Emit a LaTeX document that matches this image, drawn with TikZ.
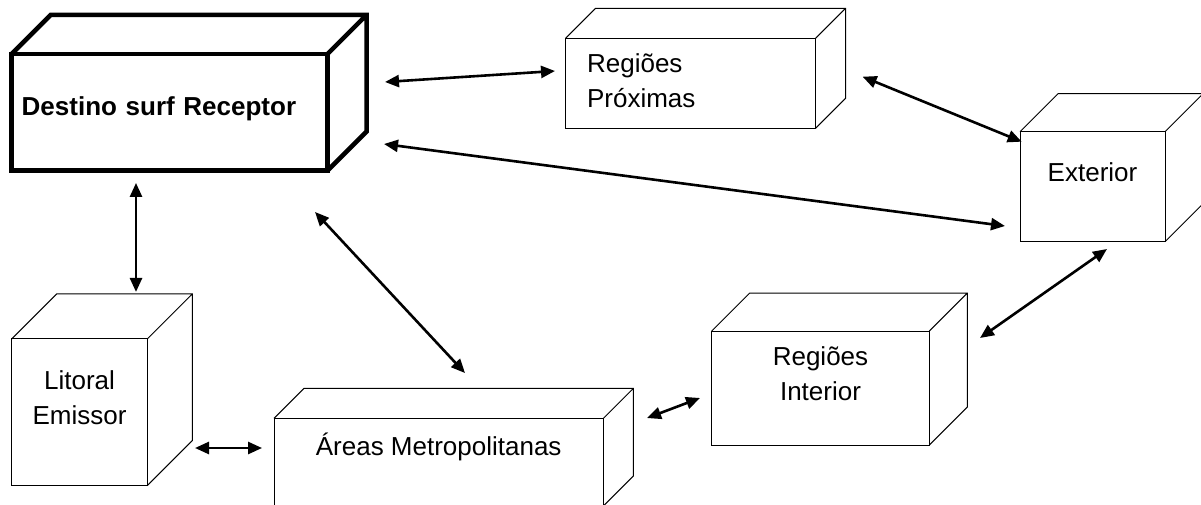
\documentclass[tikz,border=0pt]{standalone}
\usepackage{fontspec}
\setmainfont{Liberation Sans}
\usetikzlibrary{arrows.meta}

\begin{document}
\begin{tikzpicture}[x=1pt, y=-1pt, >={Triangle[length=14pt,width=12pt]}]
  % Set the node styles
  \tikzset{boxnode/.style={draw, rectangle, inner sep=0pt, outer sep=0pt, line width=1pt,
      font=\fontsize{26}{35}\selectfont, align=center, text height=19pt},
    thickbox/.style={boxnode, line width=4.5pt, font=\fontsize{26}{35}\selectfont\bfseries},
    link/.style={<->, line width=2.6pt}}

  \useasboundingbox (0,0) rectangle (1201,505);

  % Draw the front faces of the boxes
  \node[thickbox, minimum width=315.8pt, minimum height=116.7pt, text width=295.8pt,
    align=left, text depth=12pt] (dest) at (169.6,112.3) {Destino surf Receptor};
  \node[boxnode, minimum width=250pt, minimum height=90pt, text width=207pt,
    align=left, text depth=39.6pt] (prox) at (690.6,83.3) {Regiões\\Próximas};
  \node[boxnode, minimum width=145pt, minimum height=110pt, text depth=30pt]
    (ext) at (1092.5,186.7) {Exterior};
  \node[boxnode, minimum width=135.6pt, minimum height=146.7pt, text width=120pt,
    text depth=65.6pt] (lit) at (79.5,412.3) {Litoral\\Emissor};
  \node[boxnode, minimum width=329.3pt, minimum height=87.7pt, text depth=33.4pt]
    (areas) at (438.7,462.2) {Áreas Metropolitanas};
  \node[boxnode, minimum width=217.6pt, minimum height=114pt, text width=200pt,
    text depth=65pt] (inter) at (820.5,388) {Regiões\\Interior};

  % Draw the top and side faces
  \foreach \n/\d/\w in {dest/39/4.5pt, prox/30/1pt, ext/38/1pt, lit/45/1pt, areas/30/1pt, inter/38/1pt}{
    \draw[line width=\w] (\n.north west) -- ++(\d,-\d) -| ([shift={(\d,-\d)}]\n.south east)
      -- (\n.south east) (\n.north east) -- ++(\d,-\d);
  }

  % Connect the boxes
  \draw[link] ([shift={(57.5,-30.3)}]dest.east) -- ([shift={(-10.6,-12.3)}]prox.west);
  \draw[link] ([shift={(47,-6.6)}]prox.east) -- ([shift={(1.7,10)}]ext.north west);
  \draw[link] ([shift={(56.5,31.7)}]dest.east) -- ([shift={(-15,39.3)}]ext.west);
  \draw[link] ([shift={(-33.6,12.3)}]dest.south) -- ([shift={(56.5,-47)}]lit.north);
  \draw[link] ([shift={(-12.5,41.3)}]dest.south east) -- ([shift={(26.3,-45.3)}]areas.north);
  \draw[link] ([shift={(47.7,35.7)}]lit.east) -- ([shift={(-12,-14.2)}]areas.west);
  \draw[link] ([shift={(43.7,-0.3)}]areas.north east) -- ([shift={(-11.7,10)}]inter.west);
  \draw[link] ([shift={(50.7,-50)}]inter.east) -- ([shift={(14.5,7.3)}]ext.south);
\end{tikzpicture}
\end{document}
